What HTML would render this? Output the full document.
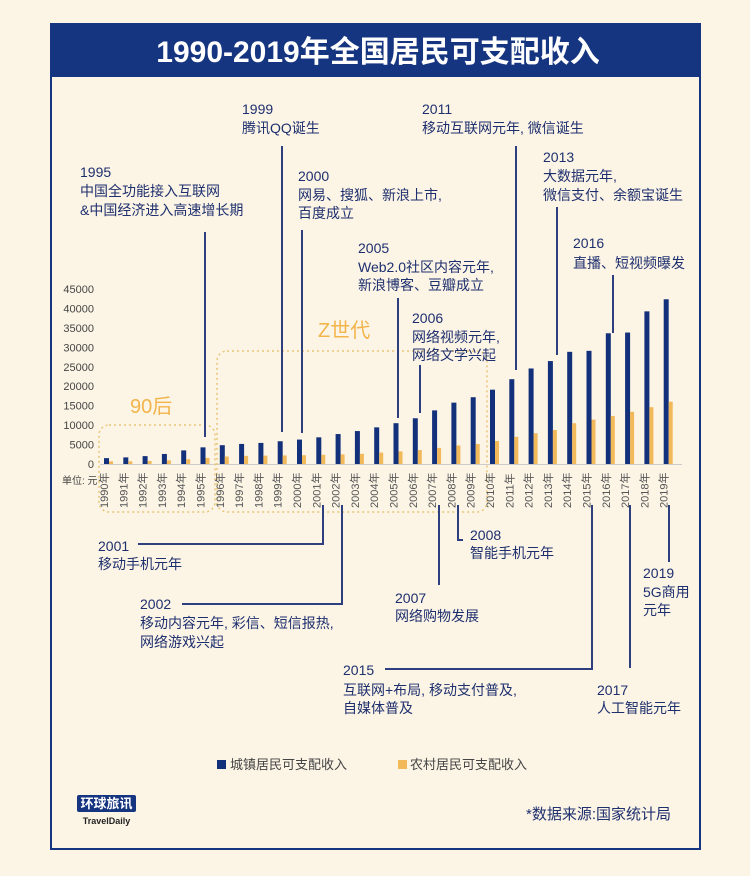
<!DOCTYPE html>
<html><head><meta charset="utf-8"><style>
body{margin:0;background:#fcf5e6;}
svg{display:block;font-family:"Liberation Sans","Noto Sans CJK SC",sans-serif;}
.a{fill:#1e2f6e;font-size:14px;}
.ln{stroke:#2d3f7f;stroke-width:2;fill:none;}
.yt{fill:#444;font-size:11px;text-anchor:end;}
.xt{fill:#555;font-size:11px;}
</style></head><body>
<svg width="750" height="876" viewBox="0 0 750 876" xmlns="http://www.w3.org/2000/svg">
<rect width="750" height="876" fill="#fcf5e6"/>
<rect x="51" y="24" width="649" height="825" fill="none" stroke="#163580" stroke-width="2"/>
<rect x="50" y="23" width="651" height="54" fill="#163580"/>
<text x="378" y="62" text-anchor="middle" fill="#fff" font-size="30" font-weight="bold">1990-2019年全国居民可支配收入</text>
<g id="y"></g>
<text x="62" y="484" fill="#444" font-size="10">单位: 元</text>
<line x1="100" y1="464.5" x2="682" y2="464.5" stroke="#ccc" stroke-width="1"/>
<rect x="99" y="425" width="116" height="87" rx="10" fill="none" stroke="#e8c577" stroke-width="1.5" stroke-dasharray="2,3"/>
<rect x="217" y="351" width="270" height="161" rx="10" fill="none" stroke="#e8c577" stroke-width="1.5" stroke-dasharray="2,3"/>
<text x="130" y="413" fill="#f2b44b" font-size="20">90后</text>
<text x="318" y="337" fill="#f2b44b" font-size="20">Z世代</text>
<g id="bars"></g>
<g id="xl"></g>
<path class="ln" d="M205 232V437M282 146V432M302 230V433M398 298V418M420 365V413M516 146V370M557 207V355M613 275V333"/>
<path class="ln" d="M138 544H323V505M182 604H342V505M439 505V585M458 505V540H463M385 669H592V505M630 505V668M669 505V562"/>
<text class="a" x="80" y="177">1995</text><text class="a" x="80" y="196">中国全功能接入互联网</text><text class="a" x="80" y="215">&amp;中国经济进入高速增长期</text>
<text class="a" x="242" y="114">1999</text><text class="a" x="242" y="133">腾讯QQ诞生</text>
<text class="a" x="298" y="181">2000</text><text class="a" x="298" y="200">网易、搜狐、新浪上市,</text><text class="a" x="298" y="218">百度成立</text>
<text class="a" x="358" y="253">2005</text><text class="a" x="358" y="272">Web2.0社区内容元年,</text><text class="a" x="358" y="290">新浪博客、豆瓣成立</text>
<text class="a" x="412" y="323">2006</text><text class="a" x="412" y="342">网络视频元年,</text><text class="a" x="412" y="360">网络文学兴起</text>
<text class="a" x="422" y="114">2011</text><text class="a" x="422" y="133">移动互联网元年, 微信诞生</text>
<text class="a" x="543" y="162">2013</text><text class="a" x="543" y="181">大数据元年,</text><text class="a" x="543" y="200">微信支付、余额宝诞生</text>
<text class="a" x="573" y="248">2016</text><text class="a" x="573" y="268">直播、短视频曝发</text>
<text class="a" x="98" y="551">2001</text><text class="a" x="98" y="569">移动手机元年</text>
<text class="a" x="140" y="609">2002</text><text class="a" x="140" y="628">移动内容元年, 彩信、短信报热,</text><text class="a" x="140" y="647">网络游戏兴起</text>
<text class="a" x="395" y="603">2007</text><text class="a" x="395" y="621">网络购物发展</text>
<text class="a" x="470" y="540">2008</text><text class="a" x="470" y="558">智能手机元年</text>
<text class="a" x="343" y="675">2015</text><text class="a" x="343" y="695">互联网+布局, 移动支付普及,</text><text class="a" x="343" y="713">自媒体普及</text>
<text class="a" x="597" y="695">2017</text><text class="a" x="597" y="713">人工智能元年</text>
<text class="a" x="643" y="578">2019</text><text class="a" x="643" y="597">5G商用</text><text class="a" x="643" y="615">元年</text>
<rect x="217" y="760" width="9" height="9" fill="#13307a"/><text x="230" y="769" fill="#444" font-size="13">城镇居民可支配收入</text>
<rect x="398" y="760" width="9" height="9" fill="#f2b95a"/><text x="410" y="769" fill="#444" font-size="13">农村居民可支配收入</text>
<rect x="77" y="795" width="59" height="17" rx="2" fill="#163580"/>
<text x="106.5" y="808" text-anchor="middle" fill="#fff" font-size="13" font-weight="bold">环球旅讯</text>
<text x="106.5" y="824" text-anchor="middle" fill="#222" font-size="9" font-weight="bold">TravelDaily</text>
<text x="671" y="819" text-anchor="end" fill="#1e2f6e" font-size="15">*数据来源:国家统计局</text>
<script>
var u=[1510,1701,2027,2577,3496,4283,4839,5160,5425,5854,6280,6860,7703,8472,9422,10493,11760,13786,15781,17175,19109,21810,24565,26467,28844,29100,33616,33800,39251,42359];
var r=[686,709,784,922,1221,1578,1926,2090,2162,2210,2253,2366,2476,2622,2936,3255,3587,4140,4761,5153,5919,6977,7917,8743,10489,11422,12363,13432,14617,16021];
var ns="http://www.w3.org/2000/svg",b=document.getElementById("bars"),xl=document.getElementById("xl"),yg=document.getElementById("y");
function el(t,a,p,tx){var e=document.createElementNS(ns,t);for(var k in a)e.setAttribute(k,a[k]);if(tx)e.textContent=tx;p.appendChild(e);}
for(var i=0;i<30;i++){var x=104+19.3*i,hu=u[i]/45000*175,hr=r[i]/45000*175;
el("rect",{x:x,y:464-hu,width:5,height:hu,fill:"#13307a"},b);
el("rect",{x:x+5,y:464-hr,width:4,height:hr,fill:"#f2b95a"},b);
var cx=x+4;el("text",{class:"xt",transform:"translate("+(cx)+",508) rotate(-90)"},xl,(1990+i)+"年");}
for(var j=0;j<=9;j++){el("text",{class:"yt",x:94,y:468-j*19.44},yg,String(j*5000));}
</script>
</svg>
</body></html>
